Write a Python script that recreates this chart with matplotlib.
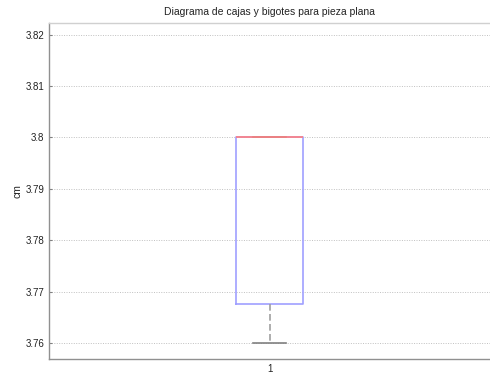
import matplotlib
matplotlib.use("Agg")
import matplotlib.pyplot as plt

labels = ["1"]
q1 = [3.7675]
median = [3.80]
q3 = [3.80]
whislo = [3.76]
whishi = [3.80]
yticks = [3.76, 3.77, 3.78, 3.79, 3.80, 3.81, 3.82]
ytick_labels = ["3.76", "3.77", "3.78", "3.79", "3.8", "3.81", "3.82"]

plt.rcParams['font.family'] = ['Liberation Sans', 'DejaVu Sans']

fig = plt.figure(figsize=(4.9, 3.75), dpi=100)
ax = fig.add_axes([0.1, 0.043, 0.9, 0.896])

stats = [dict(label=labels[i], q1=q1[i], med=median[i], q3=q3[i],
              whislo=whislo[i], whishi=whishi[i], fliers=[])
         for i in range(len(labels))]
ax.bxp(stats, positions=[1], widths=0.152, showfliers=False,
       boxprops=dict(color='#a0a0ff', linewidth=1.2),
       medianprops=dict(color='#ff8080', linewidth=1.2),
       whiskerprops=dict(color='#a0a0a0', linestyle=(0, (4, 2)), linewidth=1.2),
       capprops=dict(color='#808080', linewidth=1.2),
       capwidths=0.076)

ax.set_xlim(0.5, 1.5)
ax.set_ylim(3.7569, 3.8223)
ax.set_yticks(yticks)
ax.set_yticklabels(ytick_labels)
ax.set_xticks([1])
ax.set_xticklabels(labels)
ax.yaxis.grid(True, linestyle=(0, (1, 1.5)), color='#c0c0c0', linewidth=0.7)
ax.tick_params(axis='both', labelsize=7, direction='in', length=2, color='#808080', labelcolor='#222222')
ax.tick_params(axis='x', length=0)
for s in ax.spines.values():
    s.set_color('#909090')
    s.set_linewidth(1.0)
ax.spines['top'].set_color('#d0d0d0')
ax.spines['right'].set_visible(False)
ax.set_title("Diagrama de cajas y bigotes para pieza plana", fontsize=7.5, color='#222222', pad=6)
ax.set_ylabel("cm", fontsize=7.5, color='#222222', labelpad=2)

fig.savefig("out.png", dpi=100)
